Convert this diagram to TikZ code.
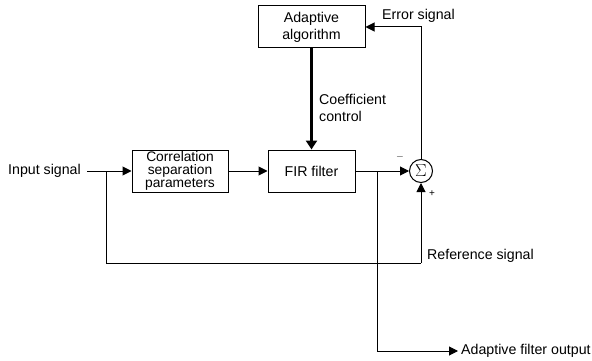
\documentclass[tikz,border=0pt]{standalone}
\usepackage{fontspec}
\setmainfont{Liberation Sans}
\usetikzlibrary{arrows.meta}
\begin{document}
\begin{tikzpicture}[x=1pt,y=-1pt,
  every node/.style={font=\fontsize{14.2}{16}\selectfont, inner sep=0pt},
  blk/.style={draw, line width=1pt, minimum height=42pt, align=center},
  lbl/.style={align=left},
  wire/.style={line width=1pt},
  arr/.style={line width=1pt, -{Triangle[length=9pt,width=9pt]}},
  thickarr/.style={line width=2.6pt, -{Triangle[length=9pt,width=11pt]}},
  sgn/.style={font=\fontsize{10}{10}\selectfont}
]
\useasboundingbox (0,0) rectangle (592,361);
\node[blk, minimum width=96pt, font=\fontsize{13.8}{12.6}\selectfont] (corr) at (180,171) {Correlation\\separation\\parameters};
\node[blk, minimum width=87pt] (fir) at (311.5,171) {FIR filter};
\node[blk, minimum width=107pt, font=\fontsize{14.2}{17}\selectfont] (adapt) at (311.5,27) {Adaptive\\algorithm};
\node[draw, circle, line width=1pt, minimum size=23pt, font=\fontsize{17}{17}\selectfont] (sum) at (421,171) {$\Sigma$};
\node[anchor=east] (inlbl) at (81,171) {Input signal};
\coordinate (in) at (87,171);
\coordinate (j1) at (106,171);
\coordinate (refL) at (106,263);
\coordinate (refR) at (421,263);
\coordinate (j2) at (377,171);
\coordinate (outB) at (377,351);
\coordinate (outE) at (458,351);
\coordinate (errC) at (421,27);
\node[anchor=west] (outlbl) at (461,351) {Adaptive filter output};
\node[anchor=west] (reflbl) at (427,256) {Reference signal};
\node[anchor=west] (errlbl) at (382,16) {Error signal};
\node[lbl, anchor=west, font=\fontsize{14.2}{17}\selectfont] (coef) at (319,107.5) {Coefficient\\control};
\node[sgn] (minus) at (400,157) {$-$};
\node[sgn] (plus) at (432,194) {+};
% connectors
\draw[arr] (in) -- (corr.west);
\draw[arr] (corr.east) -- (fir.west);
\draw[arr] (fir.east) -- (sum.west);
\draw[thickarr] (adapt.south) -- (fir.north);
\draw[wire] (j1) -- (refL) -- (refR);
\draw[arr] (refR) -- (sum.south);
\draw[wire] (j2) -- (outB);
\draw[arr] (outB) -- (outE);
\draw[arr] (sum.north) -- (errC) -- (adapt.east);
\end{tikzpicture}
\end{document}
